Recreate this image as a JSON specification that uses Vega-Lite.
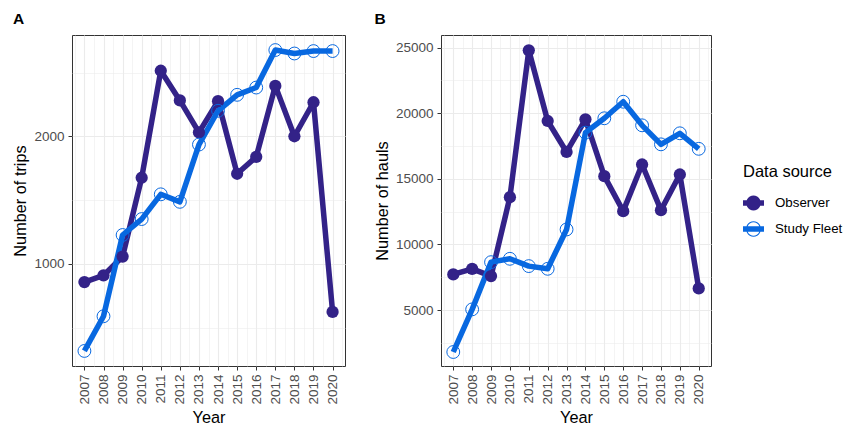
{
  "$schema": "https://vega.github.io/schema/vega-lite/v6.json",
  "padding": {"left": 12, "top": 11, "right": 5, "bottom": 0},
  "datasets": {
    "trips": [
      {"Year": 2007, "source": "Observer", "value": 857},
      {"Year": 2008, "source": "Observer", "value": 909},
      {"Year": 2009, "source": "Observer", "value": 1057},
      {"Year": 2010, "source": "Observer", "value": 1675},
      {"Year": 2011, "source": "Observer", "value": 2514},
      {"Year": 2012, "source": "Observer", "value": 2281},
      {"Year": 2013, "source": "Observer", "value": 2031},
      {"Year": 2014, "source": "Observer", "value": 2275},
      {"Year": 2015, "source": "Observer", "value": 1706},
      {"Year": 2016, "source": "Observer", "value": 1839},
      {"Year": 2017, "source": "Observer", "value": 2395},
      {"Year": 2018, "source": "Observer", "value": 2000},
      {"Year": 2019, "source": "Observer", "value": 2267},
      {"Year": 2020, "source": "Observer", "value": 623},
      {"Year": 2007, "source": "Study Fleet", "value": 317},
      {"Year": 2008, "source": "Study Fleet", "value": 589},
      {"Year": 2009, "source": "Study Fleet", "value": 1226},
      {"Year": 2010, "source": "Study Fleet", "value": 1351},
      {"Year": 2011, "source": "Study Fleet", "value": 1545},
      {"Year": 2012, "source": "Study Fleet", "value": 1486},
      {"Year": 2013, "source": "Study Fleet", "value": 1935},
      {"Year": 2014, "source": "Study Fleet", "value": 2200},
      {"Year": 2015, "source": "Study Fleet", "value": 2325},
      {"Year": 2016, "source": "Study Fleet", "value": 2382},
      {"Year": 2017, "source": "Study Fleet", "value": 2676},
      {"Year": 2018, "source": "Study Fleet", "value": 2649},
      {"Year": 2019, "source": "Study Fleet", "value": 2668},
      {"Year": 2020, "source": "Study Fleet", "value": 2668}
    ],
    "hauls": [
      {"Year": 2007, "source": "Observer", "value": 7714},
      {"Year": 2008, "source": "Observer", "value": 8141},
      {"Year": 2009, "source": "Observer", "value": 7585},
      {"Year": 2010, "source": "Observer", "value": 13605},
      {"Year": 2011, "source": "Observer", "value": 24800},
      {"Year": 2012, "source": "Observer", "value": 19413},
      {"Year": 2013, "source": "Observer", "value": 17051},
      {"Year": 2014, "source": "Observer", "value": 19543},
      {"Year": 2015, "source": "Observer", "value": 15206},
      {"Year": 2016, "source": "Observer", "value": 12539},
      {"Year": 2017, "source": "Observer", "value": 16097},
      {"Year": 2018, "source": "Observer", "value": 12615},
      {"Year": 2019, "source": "Observer", "value": 15336},
      {"Year": 2020, "source": "Observer", "value": 6647},
      {"Year": 2007, "source": "Study Fleet", "value": 1800},
      {"Year": 2008, "source": "Study Fleet", "value": 5050},
      {"Year": 2009, "source": "Study Fleet", "value": 8651},
      {"Year": 2010, "source": "Study Fleet", "value": 8906},
      {"Year": 2011, "source": "Study Fleet", "value": 8349},
      {"Year": 2012, "source": "Study Fleet", "value": 8143},
      {"Year": 2013, "source": "Study Fleet", "value": 11143},
      {"Year": 2014, "source": "Study Fleet", "value": 18522},
      {"Year": 2015, "source": "Study Fleet", "value": 19619},
      {"Year": 2016, "source": "Study Fleet", "value": 20880},
      {"Year": 2017, "source": "Study Fleet", "value": 19082},
      {"Year": 2018, "source": "Study Fleet", "value": 17632},
      {"Year": 2019, "source": "Study Fleet", "value": 18475},
      {"Year": 2020, "source": "Study Fleet", "value": 17290}
    ]
  },
  "config": {
    "font": "Liberation Sans",
    "view": {"stroke": "#333333", "strokeWidth": 1},
    "axis": {
      "domain": false,
      "labelFont": "Liberation Sans",
      "labelFontSize": 13.5,
      "labelColor": "#4d4d4d",
      "labelPadding": 4,
      "labelOverlap": false,
      "labelFlush": false,
      "labelBound": false,
      "titleFont": "Liberation Sans",
      "titleFontSize": 16.3,
      "titleFontWeight": "normal",
      "titleColor": "black",
      "titlePadding": 5,
      "tickColor": "#333333",
      "tickSize": 4,
      "tickWidth": 1,
      "gridColor": "#ebebeb"
    },
    "legend": {
      "titleFont": "Liberation Sans",
      "titleFontSize": 16.5,
      "titleFontWeight": "normal",
      "titleColor": "black",
      "labelFont": "Liberation Sans",
      "labelFontSize": 13.3,
      "labelColor": "black",
      "symbolSize": 441,
      "symbolStrokeWidth": 0,
      "labelOffset": 11,
      "rowPadding": 7,
      "titlePadding": 12,
      "offset": 27,
      "layout": {"right": {"anchor": "middle"}}
    },
    "title": {"font": "Liberation Sans", "fontSize": 15.5, "fontWeight": "bold", "color": "black", "anchor": "start", "frame": "bounds", "offset": 8}
  },
  "spacing": 23,
  "resolve": {"scale": {"color": "shared"}},
  "hconcat": [
    {
      "data": {"name": "trips"},
      "width": 273,
      "height": 331,
      "title": {"text": "A"},
      "encoding": {
        "x": {
          "field": "Year", "type": "quantitative",
          "scale": {"domain": [2006.35, 2020.65], "nice": false, "zero": false},
          "axis": {
            "title": "Year",
            "values": [2006.5, 2007, 2007.5, 2008, 2008.5, 2009, 2009.5, 2010, 2010.5, 2011, 2011.5, 2012, 2012.5, 2013, 2013.5, 2014, 2014.5, 2015, 2015.5, 2016, 2016.5, 2017, 2017.5, 2018, 2018.5, 2019, 2019.5, 2020, 2020.5],
            "labelExpr": "datum.value % 1 === 0 ? '' + datum.value : ''",
            "labelAngle": -90,
            "gridWidth": {"condition": {"test": "datum.value % 1 !== 0", "value": 0.55}, "value": 1.1},
            "tickOpacity": {"condition": {"test": "datum.value % 1 !== 0", "value": 0}, "value": 1}
          }
        },
        "y": {
          "field": "value", "type": "quantitative",
          "scale": {"domain": [199, 2794], "nice": false, "zero": false},
          "axis": {
            "title": "Number of trips",
            "values": [500, 1000, 1500, 2000, 2500],
            "labelExpr": "datum.value % 1000 === 0 ? '' + datum.value : ''",
            "gridWidth": {"condition": {"test": "datum.value % 1000 !== 0", "value": 0.55}, "value": 1.1},
            "tickOpacity": {"condition": {"test": "datum.value % 1000 !== 0", "value": 0}, "value": 1}
          }
        },
        "color": {
          "field": "source", "type": "nominal",
          "scale": {"domain": ["Observer", "Study Fleet"], "range": ["#332288", "#0868E0"]},
          "legend": {
            "title": "Data source",
            "encode": {
              "symbols": {
                "update": {
                  "shape": {"signal": "datum.value === 'Observer' ? 'M-1,-0.26H1V0.26H-1Z M0.68,0A0.681,0.681 0 1,1 -0.68,0A0.681,0.681 0 1,1 0.68,0Z' : 'M-1,-0.26H1V0.26H-1Z M0.7,0A0.701,0.701 0 1,1 -0.7,0A0.701,0.701 0 1,1 0.7,0Z M0.6,0A0.601,0.601 0 1,0 -0.6,0A0.601,0.601 0 1,0 0.6,0Z'"},
                  "fill": {"signal": "datum.value === 'Observer' ? '#332288' : '#0868E0'"},
                  "fillOpacity": {"value": 1},
                  "strokeWidth": {"value": 0},
                  "opacity": {"value": 1}
                }
              }
            }
          }
        }
      },
      "layer": [
        {"mark": {"type": "line", "strokeWidth": 5.5, "strokeJoin": "round", "strokeCap": "butt"}},
        {
          "transform": [{"filter": "datum.source === 'Observer'"}],
          "mark": {"type": "point", "shape": "circle", "size": 150, "filled": true, "opacity": 1}
        },
        {
          "transform": [{"filter": "datum.source === 'Study Fleet'"}],
          "mark": {"type": "point", "shape": "circle", "size": 165, "filled": false, "strokeWidth": 1, "opacity": 1}
        }
      ]
    },
    {
      "data": {"name": "hauls"},
      "width": 270,
      "height": 331,
      "title": {"text": "B"},
      "encoding": {
        "x": {
          "field": "Year", "type": "quantitative",
          "scale": {"domain": [2006.35, 2020.65], "nice": false, "zero": false},
          "axis": {
            "title": "Year",
            "values": [2006.5, 2007, 2007.5, 2008, 2008.5, 2009, 2009.5, 2010, 2010.5, 2011, 2011.5, 2012, 2012.5, 2013, 2013.5, 2014, 2014.5, 2015, 2015.5, 2016, 2016.5, 2017, 2017.5, 2018, 2018.5, 2019, 2019.5, 2020, 2020.5],
            "labelExpr": "datum.value % 1 === 0 ? '' + datum.value : ''",
            "labelAngle": -90,
            "gridWidth": {"condition": {"test": "datum.value % 1 !== 0", "value": 0.55}, "value": 1.1},
            "tickOpacity": {"condition": {"test": "datum.value % 1 !== 0", "value": 0}, "value": 1}
          }
        },
        "y": {
          "field": "value", "type": "quantitative",
          "scale": {"domain": [733, 25968], "nice": false, "zero": false},
          "axis": {
            "title": "Number of hauls",
            "values": [2500, 5000, 7500, 10000, 12500, 15000, 17500, 20000, 22500, 25000],
            "labelExpr": "datum.value % 5000 === 0 ? '' + datum.value : ''",
            "gridWidth": {"condition": {"test": "datum.value % 5000 !== 0", "value": 0.55}, "value": 1.1},
            "tickOpacity": {"condition": {"test": "datum.value % 5000 !== 0", "value": 0}, "value": 1}
          }
        },
        "color": {
          "field": "source", "type": "nominal",
          "scale": {"domain": ["Observer", "Study Fleet"], "range": ["#332288", "#0868E0"]}
        }
      },
      "layer": [
        {"mark": {"type": "line", "strokeWidth": 5.5, "strokeJoin": "round", "strokeCap": "butt"}},
        {
          "transform": [{"filter": "datum.source === 'Observer'"}],
          "mark": {"type": "point", "shape": "circle", "size": 150, "filled": true, "opacity": 1}
        },
        {
          "transform": [{"filter": "datum.source === 'Study Fleet'"}],
          "mark": {"type": "point", "shape": "circle", "size": 165, "filled": false, "strokeWidth": 1, "opacity": 1}
        }
      ]
    }
  ]
}
